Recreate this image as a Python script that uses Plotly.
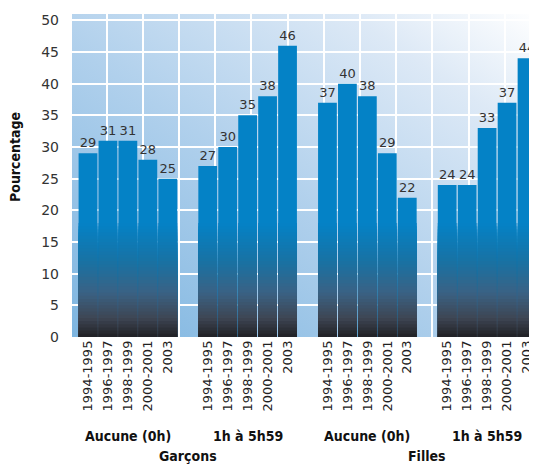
import base64
import plotly.graph_objects as go

# ---------------- data ----------------
periods = ["1994-1995", "1996-1997", "1998-1999", "2000-2001", "2003"]
groups = ["Aucune (0h)", "1h à 5h59", "Aucune (0h)", "1h à 5h59"]
sexes = ["Garçons", "Filles"]
garcons_aucune = [29, 31, 31, 28, 25]
garcons_1h5h59 = [27, 30, 35, 38, 46]
filles_aucune = [37, 40, 38, 29, 22]
filles_1h5h59 = [24, 24, 33, 37, 44]
series = [garcons_aucune, garcons_1h5h59, filles_aucune, filles_1h5h59]

# ---------------- derived positions ----------------
slot = len(periods) + 1
xs, ys, labels = [], [], []
for g, vals in enumerate(series):
    for i, v in enumerate(vals):
        xs.append(g * slot + i)
        ys.append(v)
        labels.append(periods[i])
group_centers = [g * slot + (len(periods) - 1) / 2 for g in range(len(series))]
sex_centers = [(group_centers[0] + group_centers[1]) / 2,
               (group_centers[2] + group_centers[3]) / 2]

FONT = "DejaVu Sans, Liberation Sans, Arial, sans-serif"
NARROW = "Liberation Sans Narrow, Arial Narrow, DejaVu Sans Condensed, Liberation Sans, sans-serif"
BLUE = "#0482c6"
BARGAP = 0.06

# page offset (body margin) compensation: plot area spans x 72..537, y 14..337 on screen
OFF = 8
W, H = 537 - OFF, 465 - OFF
PL, PR, PT, PB = 72, 537, 14, 337

fig = go.Figure()

# main bars
fig.add_trace(go.Bar(
    x=xs, y=ys, marker=dict(color=BLUE, line=dict(width=0)),
    text=[str(v) for v in ys], textposition="outside",
    textfont=dict(family=FONT, size=13, color="#333333"),
    cliponaxis=False, showlegend=False, hoverinfo="x+y",
))

# dark gradient at the bottom of the bars (overlaid bands)
stops = [(0.0, (32, 32, 36)), (3.0, (62, 70, 84)), (7.0, (58, 98, 132)),
         (12.0, (24, 114, 164)), (18.0, (4, 130, 198))]


def col_at(h):
    for (h0, c0), (h1, c1) in zip(stops[:-1], stops[1:]):
        if h0 <= h <= h1:
            t = (h - h0) / (h1 - h0)
            return "rgb(%d,%d,%d)" % tuple(round(a + (b - a) * t) for a, b in zip(c0, c1))
    return "rgb(%d,%d,%d)" % stops[-1][1]


step = 0.5
n = int(stops[-1][0] / step)
for k in range(n, 0, -1):
    h = k * step
    fig.add_trace(go.Bar(
        x=xs, y=[min(v, h) for v in ys],
        marker=dict(color=col_at(h - step / 2), line=dict(width=0)),
        showlegend=False, hoverinfo="skip",
    ))

# invisible trace for the vertical grid axis
fig.add_trace(go.Scatter(x=[None], y=[None], xaxis="x2", showlegend=False, hoverinfo="skip"))

# background gradient (SVG data URI)
svg = ('<svg xmlns="http://www.w3.org/2000/svg" width="465" height="323" viewBox="0 0 465 323" '
       'preserveAspectRatio="none"><defs><linearGradient id="g" x1="0" y1="1" x2="1" y2="0">'
       '<stop offset="0" stop-color="#7db5e0"/><stop offset="0.45" stop-color="#b0d0ec"/>'
       '<stop offset="0.8" stop-color="#dde9f6"/><stop offset="1" stop-color="#ffffff"/>'
       '</linearGradient></defs><rect width="465" height="323" fill="url(#g)"/></svg>')
src = "data:image/svg+xml;base64," + base64.b64encode(svg.encode()).decode()


def py(pix):
    return (PB - pix) / (PB - PT)


def px(pix):
    return (pix - PL) / (PR - PL)


annotations = []
for c, gname in zip(group_centers, groups):
    annotations.append(dict(x=c, y=py(436), xref="x", yref="paper", text="<b>%s</b>" % gname,
                            showarrow=False, xanchor="center", yanchor="middle",
                            font=dict(family=NARROW, size=14, color="#111111")))
for c, s in zip(sex_centers, sexes):
    annotations.append(dict(x=c, y=py(456), xref="x", yref="paper", text="<b>%s</b>" % s,
                            showarrow=False, xanchor="center", yanchor="middle",
                            font=dict(family=NARROW, size=14, color="#111111")))
annotations.append(dict(x=px(15), y=py(157), xref="paper", yref="paper", text="<b>Pourcentage</b>",
                        showarrow=False, textangle=-90, xanchor="center", yanchor="middle",
                        font=dict(family=NARROW, size=14, color="#111111")))

fig.update_layout(
    width=W, height=H,
    margin=dict(l=PL - OFF, r=537 - PR, t=PT - OFF, b=H - (PB - OFF)),
    paper_bgcolor="white", plot_bgcolor="#aacdeb",
    barmode="overlay", bargap=BARGAP,
    images=[dict(source=src, xref="paper", yref="paper", x=0, y=1, sizex=1, sizey=1,
                 xanchor="left", yanchor="top", sizing="stretch", layer="below")],
    xaxis=dict(range=[-0.8, 22.5], tickvals=xs, ticktext=labels, tickangle=-90,
               tickfont=dict(family=FONT, size=13, color="#222222"),
               showgrid=False, zeroline=False, showline=False, ticks=""),
    xaxis2=dict(overlaying="x", side="top", range=[0.041, 12.89], dtick=1, tick0=0,
                showgrid=True, gridcolor="white", gridwidth=1.5, showticklabels=False,
                zeroline=False, showline=False, ticks=""),
    yaxis=dict(range=[0, 51], dtick=5, tick0=0, showgrid=True, gridcolor="white", gridwidth=1.5,
               zeroline=False, showline=False, ticks="", ticklabelstandoff=12,
               tickfont=dict(family=FONT, size=14, color="#333333")),
    annotations=annotations,
    font=dict(family=FONT),
)

fig.write_html("out.html")
